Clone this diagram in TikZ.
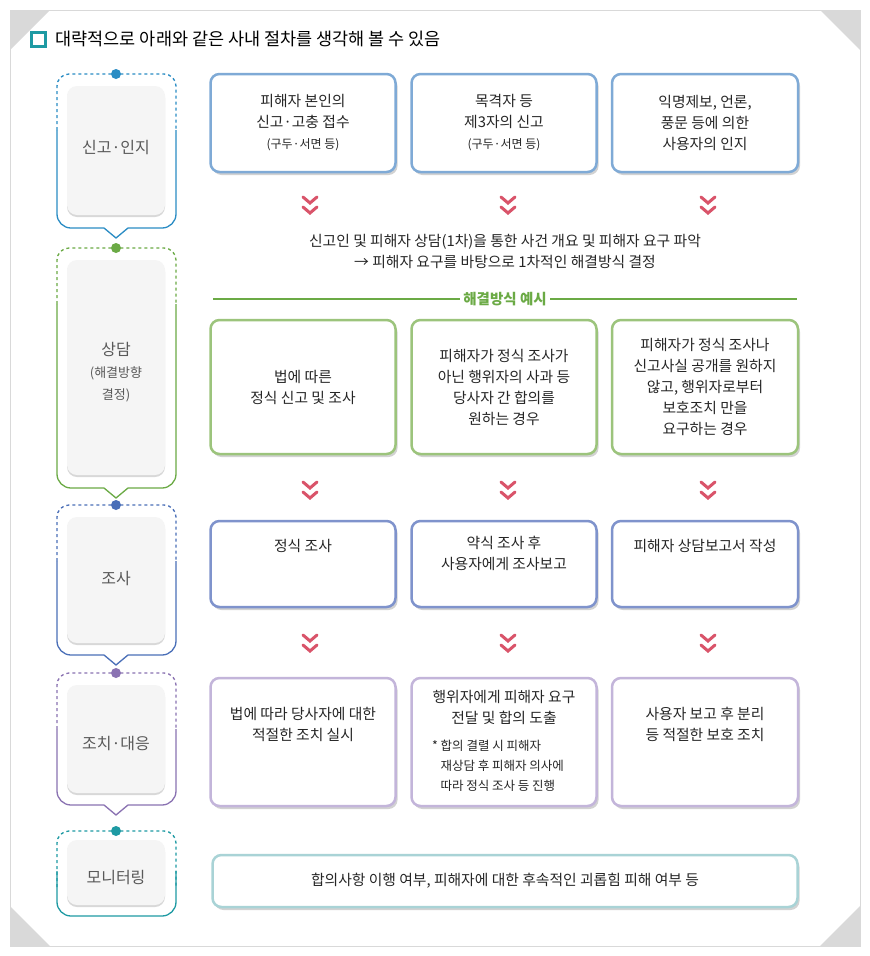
\documentclass[tikz,border=0pt]{standalone}
\usepackage{fontspec}
\setmainfont{Noto Sans CJK KR}
\usetikzlibrary{shadows,calc}
\definecolor{c1}{HTML}{2A8CC4}\definecolor{c2}{HTML}{6BAA45}\definecolor{c3}{HTML}{4A6FB8}
\definecolor{c4}{HTML}{8A72B2}\definecolor{c5}{HTML}{1E9AA3}
\definecolor{b1}{HTML}{7FAAD6}\definecolor{b2}{HTML}{9CC47C}\definecolor{b3}{HTML}{7F93CC}
\definecolor{b4}{HTML}{C3B5DA}\definecolor{b5}{HTML}{A9D3D6}\definecolor{arr}{HTML}{D9546A}
\tikzset{x=1pt,y=-1pt,
 cbox/.style={draw=#1,line width=2.5pt,rounded corners=9pt,fill=white,drop shadow={shadow xshift=2pt,shadow yshift=-3pt,opacity=.35}},
 inner/.style={fill=gray!8,rounded corners=10pt,drop shadow={shadow xshift=0pt,shadow yshift=-2pt,opacity=.3}},
 txt/.style={align=center,font=\fontsize{14.8}{21}\selectfont,text=black!85},
 stg/.style={font=\fontsize{16}{22}\selectfont,text=black!65,align=center}}
\newcommand\chev[2]{\begin{scope}[shift={(#1,#2)}]
\draw[arr,line width=3pt,line cap=round] (-7,-10)--(0,-4)--(7,-10) (-7,0)--(0,6)--(7,0);\end{scope}}
\newcommand\stage[6]{%
 \draw[#5,line width=1.3pt,dashed] (#1,#2+56)--(#1,#2+12) arc[start angle=180,end angle=270,radius=12]--(#3-12,#2) arc[start angle=270,end angle=360,radius=12]--(#3,#2+56);
 \ifnum#6=1
 \draw[#5,line width=1.3pt] (#1,#2+56)--(#1,#4-14) arc[start angle=180,end angle=90,radius=14]--(104,#4)--(116,#4+10)--(128,#4)--(#3-14,#4) arc[start angle=90,end angle=0,radius=14]--(#3,#2+56);
 \else
 \draw[#5,line width=1.3pt] (#1,#2+40)--(#1,#4-14) arc[start angle=180,end angle=90,radius=14]--(#3-14,#4) arc[start angle=90,end angle=0,radius=14]--(#3,#2+40);
 \fi
 \fill[#5] (116,#2) circle (5);}
\begin{document}
\begin{tikzpicture}
\useasboundingbox (0,0) rectangle (870,956);
\fill[white] (0,0) rectangle (870,956);
\draw[gray!30] (10,10) rectangle (860,946);
\fill[gray!30] (10,10)--(50,10)--(10,50)--cycle (860,10)--(820,10)--(860,50)--cycle
 (10,946)--(50,946)--(10,906)--cycle (860,946)--(820,946)--(860,906)--cycle;
\draw[c5,line width=3pt] (31,32) rectangle (45,46);
\node[anchor=west,font=\fontsize{17.5}{20}\selectfont] (title) at (52,39) {대략적으로 아래와 같은 사내 절차를 생각해 볼 수 있음};
% stages
\stage{57}{74}{176}{228}{c1}{1}
\stage{57}{248}{176}{488}{c2}{1}
\stage{57}{505}{176}{655}{c3}{1}
\stage{57}{673}{176}{805}{c4}{1}
\stage{57}{831}{176}{916}{c5}{0}
\fill[inner] (67,86) rectangle (165,215); \node[stg] (s1) at (116,148) {신고·인지};
\fill[inner] (67,260) rectangle (165,475); \node[stg] (s2) at (116,372) {상담\\{\fontsize{13}{20}\selectfont (해결방향}\\{\fontsize{13}{20}\selectfont 결정)}};
\fill[inner] (67,517) rectangle (165,643); \node[stg] (s3) at (116,578) {조사};
\fill[inner] (67,685) rectangle (165,793); \node[stg] (s4) at (116,743) {조치·대응};
\fill[inner] (67,840) rectangle (165,905); \node[stg] (s5) at (116,878) {모니터링};
% row 1
\node[cbox=b1,minimum width=185,minimum height=98,txt] (a1) at (303,123) {피해자 본인의\\신고·고충 접수\\{\fontsize{12}{17}\selectfont(구두·서면 등)}};
\node[cbox=b1,minimum width=185,minimum height=98,txt] (a2) at (504,123) {목격자 등\\제3자의 신고\\{\fontsize{12}{17}\selectfont(구두·서면 등)}};
\node[cbox=b1,minimum width=186,minimum height=98,txt] (a3) at (705,123) {익명제보, 언론,\\풍문 등에 의한\\사용자의 인지};
\foreach \x in {310,508,708}{\chev{\x}{207}\chev{\x}{492}\chev{\x}{645}}
\node[txt] (t1) at (505,251) {신고인 및 피해자 상담(1차)을 통한 사건 개요 및 피해자 요구 파악\\→ 피해자 요구를 바탕으로 1차적인 해결방식 결정};
\draw[c2,line width=2.5pt] (213,299)--(797,299);
\node[fill=white,text=c2,font=\bfseries\fontsize{14.5}{16}\selectfont] (ex) at (505,299) {해결방식 예시};
% row 2
\node[cbox=b2,minimum width=185,minimum height=134,txt] (b1) at (303,387) {법에 따른\\정식 신고 및 조사};
\node[cbox=b2,minimum width=185,minimum height=134,txt] (b2n) at (504,387) {피해자가 정식 조사가\\아닌 행위자의 사과 등\\당사자 간 합의를\\원하는 경우};
\node[cbox=b2,minimum width=186,minimum height=134,txt] (b3n) at (705,387) {피해자가 정식 조사나\\신고사실 공개를 원하지\\않고, 행위자로부터\\보호조치 만을\\요구하는 경우};
% row 3
\node[cbox=b3,minimum width=185,minimum height=86,txt] (c1n) at (303,564) {정식 조사\\[16pt]};
\node[cbox=b3,minimum width=185,minimum height=86,txt] (c2n) at (504,564) {약식 조사 후\\사용자에게 조사보고\\[2pt]};
\node[cbox=b3,minimum width=186,minimum height=86,txt] (c3n) at (705,564) {피해자 상담보고서 작성\\[16pt]};
% row 4
\node[cbox=b4,minimum width=185,minimum height=128,txt] (d1) at (303,742) {법에 따라 당사자에 대한\\적절한 조치 실시\\[16pt]};
\node[cbox=b4,minimum width=185,minimum height=128,txt] (d2) at (504,742) {};
\node[txt] (d2a) at (504,707) {행위자에게 피해자 요구\\전달 및 합의 도출};
\node[align=left,font=\fontsize{12.5}{20}\selectfont,text=black!85] (d2b) at (498,766) {* 합의 결렬 시 피해자\\\ \ \ 재상담 후 피해자 의사에\\\ \ \ 따라 정식 조사 등 진행};
\node[cbox=b4,minimum width=186,minimum height=128,txt] (d3) at (705,742) {사용자 보고 후 분리\\등 적절한 보호 조치\\[16pt]};
% row 5
\node[cbox=b5,minimum width=585,minimum height=52,txt] (e1) at (505,881) {합의사항 이행 여부, 피해자에 대한 후속적인 괴롭힘 피해 여부 등};
\end{tikzpicture}
\end{document}
